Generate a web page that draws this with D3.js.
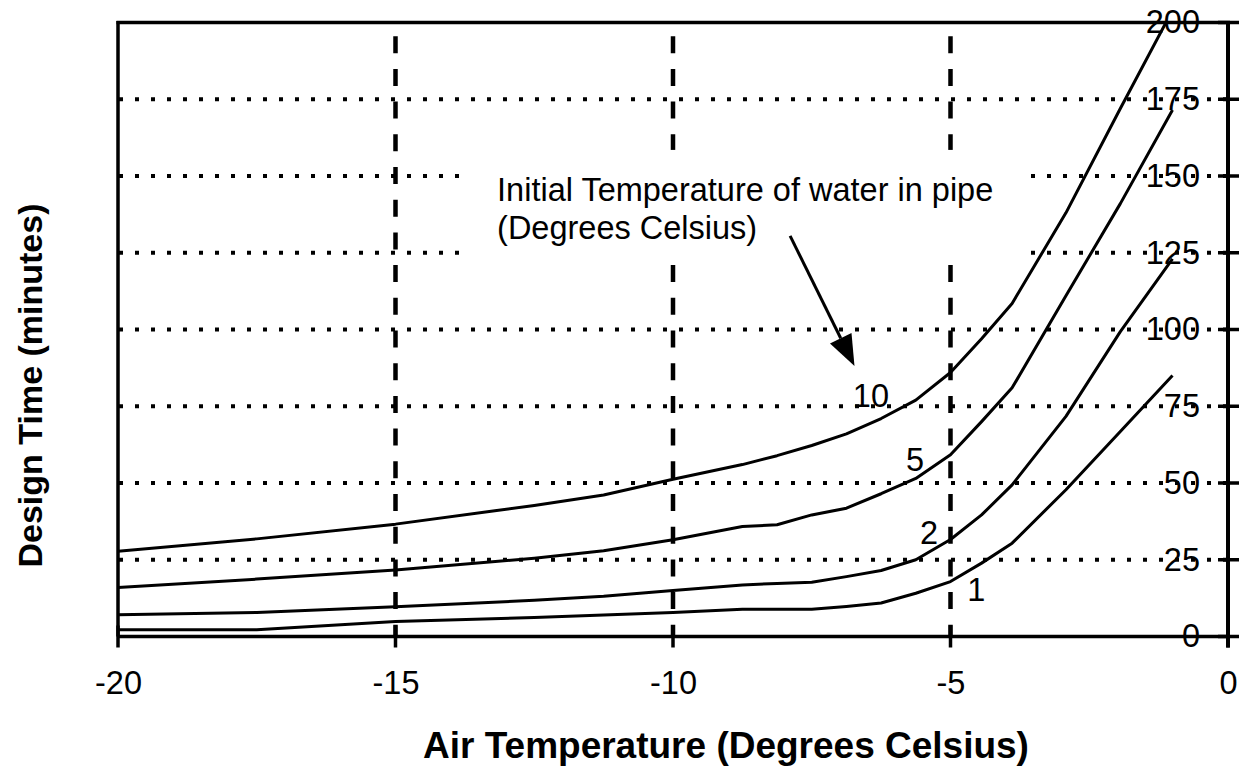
<!DOCTYPE html>
<html>
<head>
<meta charset="utf-8">
<script src="https://cdn.jsdelivr.net/npm/d3@7"></script>
<style>
  html, body { margin: 0; padding: 0; background: #fff; }
  svg text { font-family: "Liberation Sans", Arial, sans-serif; fill: #000; }
</style>
</head>
<body>
<div id="chart"></div>
<script>
// air temperature (deg C) at which each curve was sampled
const airTemps = [-20, -17.5, -15, -12.5, -11.25, -10, -8.75, -8.125, -7.5, -6.875, -6.25, -5.625, -5, -4.44, -3.89, -2.92, -1.94, -1.0];

// design time (minutes) per initial water temperature
const series10 = [27.8, 31.8, 36.6, 42.7, 46.1, 51.2, 56.0, 58.9, 62.2, 66.0, 71.0, 77.0, 86.0, 97.0, 108.5, 138.0, 172.0, 204.0];
const series5  = [16.0, 18.7, 21.7, 25.5, 27.9, 31.5, 35.8, 36.4, 39.6, 41.8, 46.5, 51.5, 59.2, 70.0, 81.0, 111.0, 141.0, 171.5];
const series2  = [7.1, 7.8, 9.7, 11.8, 13.1, 15.0, 16.8, 17.3, 17.7, 19.5, 21.5, 25.0, 31.6, 39.6, 49.4, 71.7, 99.3, 123.0];
const series1  = [2.2, 2.2, 4.9, 6.2, 7.0, 7.8, 8.9, 8.9, 8.9, 9.8, 10.9, 14.1, 17.9, 23.9, 30.4, 47.8, 66.8, 85.0];

const seriesNames = ["10", "5", "2", "1"];
// where each curve's name sits, in data units (air temp, minutes)
const seriesLabelPos = [[-6.76, 74.8], [-5.8, 53.9], [-5.55, 30.1], [-4.7, 11.6]];

const xTicks = [-20, -15, -10, -5, 0];
const yTicks = [0, 25, 50, 75, 100, 125, 150, 175, 200];
const xGridValues = [-15, -10, -5];
const yGridValues = [25, 50, 75, 100, 125, 150, 175];

const noteLines = ["Initial Temperature of water in pipe", "(Degrees Celsius)"];

const W = 1241, H = 769;
const FONT = "32.5px";
const x = d3.scaleLinear().domain([-20, 0]).range([118, 1228]);
const y = d3.scaleLinear().domain([0, 200]).range([636.5, 22.5]);

const svg = d3.select("#chart").append("svg")
    .attr("width", W)
    .attr("height", H);

svg.append("rect").attr("width", W).attr("height", H).attr("fill", "#fff");

svg.append("clipPath").attr("id", "plot-clip")
  .append("rect")
    .attr("x", x(-20)).attr("y", y(200))
    .attr("width", x(0) - x(-20)).attr("height", y(0) - y(200));

// y tick labels sit inside the plot, left of the right-hand axis (drawn first, lines run over them)
const yAxis = d3.axisLeft(y).tickValues(yTicks).tickSize(0).tickPadding(28);
const yAxisG = svg.append("g")
    .attr("transform", `translate(${x(0)},0)`)
    .call(yAxis);
yAxisG.select(".domain").remove();
yAxisG.selectAll("text")
    .style("font-size", FONT)
    .attr("font-family", null);

// dotted horizontal grid
svg.append("g").selectAll("line").data(yGridValues).join("line")
    .attr("x1", x(-20)).attr("x2", x(0))
    .attr("y1", d => y(d)).attr("y2", d => y(d))
    .attr("stroke", "#000")
    .attr("stroke-width", 4)
    .attr("stroke-dasharray", "4,12")
    .attr("stroke-dashoffset", -1);

// dashed vertical grid
svg.append("g").selectAll("line").data(xGridValues).join("line")
    .attr("x1", d => x(d)).attr("x2", d => x(d))
    .attr("y1", y(200)).attr("y2", y(0))
    .attr("stroke", "#000")
    .attr("stroke-width", 4.5)
    .attr("stroke-dasharray", "17,15.7")
    .attr("stroke-dashoffset", 19);

// white box behind the annotation text
svg.append("rect")
    .attr("x", x(-13.78)).attr("y", y(158.5))
    .attr("width", x(-3.62) - x(-13.78))
    .attr("height", y(121.7) - y(158.5))
    .attr("fill", "#fff");

const note = svg.append("text")
    .attr("x", x(-13.17)).attr("y", y(141.9))
    .style("font-size", FONT);
note.selectAll("tspan").data(noteLines).join("tspan")
    .attr("x", x(-13.17))
    .attr("dy", (d, i) => i === 0 ? 0 : 38)
    .text(d => d);

// arrow pointing at the top curve
const ax1 = x(-7.89), ay1 = y(130.5), ax2 = x(-6.73), ay2 = y(88.1);
const ang = Math.atan2(ay2 - ay1, ax2 - ax1);
const headLen = 31, headHalf = 12;
const bx = ax2 - headLen * Math.cos(ang), by = ay2 - headLen * Math.sin(ang);
svg.append("line")
    .attr("x1", ax1).attr("y1", ay1).attr("x2", bx).attr("y2", by)
    .attr("stroke", "#000").attr("stroke-width", 3);
svg.append("path")
    .attr("d", `M${ax2},${ay2}L${bx + headHalf * Math.sin(ang)},${by - headHalf * Math.cos(ang)}L${bx - headHalf * Math.sin(ang)},${by + headHalf * Math.cos(ang)}Z`)
    .attr("fill", "#000");

// curves
const allSeries = [series10, series5, series2, series1];
const line = d3.line()
    .x((d, i) => x(airTemps[i]))
    .y(d => y(d));

svg.append("g").attr("clip-path", "url(#plot-clip)")
  .selectAll("path").data(allSeries).join("path")
    .attr("d", line)
    .attr("fill", "none")
    .attr("stroke", "#000")
    .attr("stroke-width", 3)
    .attr("stroke-linejoin", "round");

svg.append("g").selectAll("text").data(seriesNames).join("text")
    .attr("x", (d, i) => x(seriesLabelPos[i][0]))
    .attr("y", (d, i) => y(seriesLabelPos[i][1]))
    .style("font-size", FONT)
    .text(d => d);

// frame: left, top, bottom and right (value) axis
const frame = svg.append("g").attr("stroke", "#000");
frame.append("line").attr("x1", x(-20)).attr("x2", x(-20)).attr("y1", y(200) - 1.5).attr("y2", y(0)).attr("stroke-width", 3.5);
frame.append("line").attr("x1", x(-20) - 1.5).attr("x2", x(0) + 2).attr("y1", y(200)).attr("y2", y(200)).attr("stroke-width", 3.5);
frame.append("line").attr("x1", x(-20)).attr("x2", x(0) + 2).attr("y1", y(0)).attr("y2", y(0)).attr("stroke-width", 3.5);
frame.append("line").attr("x1", x(0)).attr("x2", x(0)).attr("y1", y(200) - 1.5).attr("y2", y(0) + 11).attr("stroke-width", 4);

// cross ticks
frame.selectAll(".yt").data(yTicks).join("line")
    .attr("class", "yt")
    .attr("x1", x(0) - 10).attr("x2", x(0) + 11)
    .attr("y1", d => y(d)).attr("y2", d => y(d))
    .attr("stroke-width", 3.5);
frame.selectAll(".xt").data(xTicks).join("line")
    .attr("class", "xt")
    .attr("x1", d => x(d)).attr("x2", d => x(d))
    .attr("y1", y(0) - 11).attr("y2", y(0) + 11)
    .attr("stroke-width", 3.5);

// x tick labels
const xAxis = d3.axisBottom(x).tickValues(xTicks).tickSize(0).tickPadding(34).tickFormat(d3.format("d"));
const xAxisG = svg.append("g")
    .attr("transform", `translate(0,${y(0)})`)
    .call(xAxis);
xAxisG.select(".domain").remove();
xAxisG.selectAll("text")
    .style("font-size", FONT)
    .attr("font-family", null)
    .text(d => d < 0 ? "-" + Math.abs(d) : d);

// axis titles
svg.append("text")
    .attr("x", (x(-20) + x(0)) / 2 + 53)
    .attr("y", 758)
    .attr("text-anchor", "middle")
    .style("font-size", "37px")
    .style("font-weight", "bold")
    .text("Air Temperature (Degrees Celsius)");

svg.append("text")
    .attr("transform", `translate(42,${(y(0) + y(200)) / 2 + 56}) rotate(-90)`)
    .attr("text-anchor", "middle")
    .style("font-size", "34px")
    .style("font-weight", "bold")
    .text("Design Time (minutes)");
</script>
</body>
</html>
